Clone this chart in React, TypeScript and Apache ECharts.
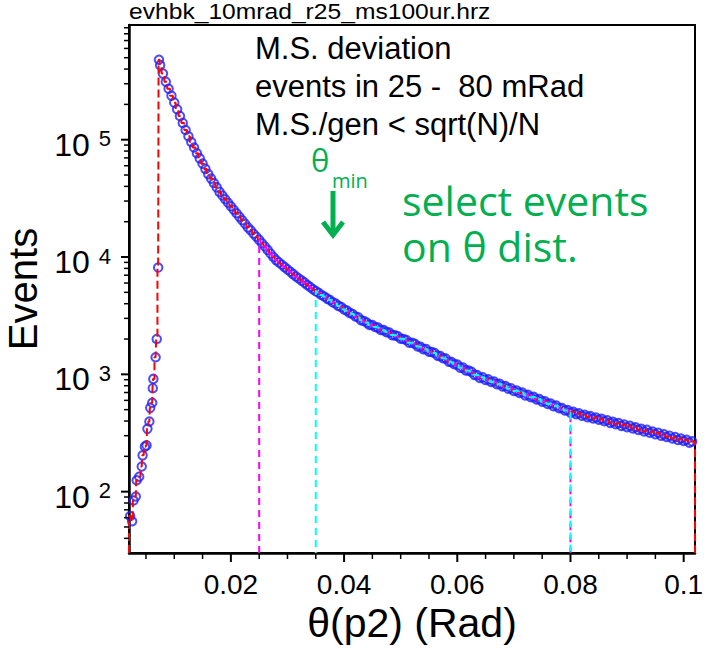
import React, { useEffect, useRef } from "react";
import * as echarts from "echarts";

// ---- axis ranges ----
const X_MIN = 0.002;
const X_MAX = 0.102;
const Y_MIN = 30;
const Y_MAX = 950000;

// ---- histogram: rising edge (theta in rad, events) ----
const thetaRise = [0.0022, 0.00255, 0.0028, 0.0032, 0.00335, 0.0038, 0.00425, 0.0044, 0.0048, 0.0051, 0.00525, 0.0056, 0.00575, 0.0061, 0.0062, 0.0063, 0.0067, 0.0069, 0.00715, 0.0073];
const eventsRise = [62, 56, 84, 91, 125, 134, 164, 204, 242, 248, 343, 396, 518, 572, 762, 914, 1397, 2000, 8130, 480000];

// ---- histogram: falling part, bins of 0.0005 rad starting at 0.0075 ----
const BIN_START = 0.0075;
const BIN_WIDTH = 0.0005;
const eventsDecay = [
  432000, 366000, 312000, 272000, 237000, 207000, 182000, 159000, 139000, 121000,
  107000, 95700, 85700, 76700, 69300, 62500, 56400, 50900, 46600, 42700,
  39200, 35900, 33400, 31100, 29000, 27100, 25300, 23600, 22000, 20600,
  19200, 17900, 16900, 15800, 14900, 14000, 13100, 12300, 11500, 10700,
  10000, 9410, 8990, 8590, 8200, 7830, 7480, 7150, 6830, 6560,
  6290, 6050, 5770, 5560, 5310, 5120, 4960, 4740, 4610, 4420,
  4300, 4110, 4020, 3830, 3750, 3570, 3490, 3340, 3270, 3110,
  3070, 2890, 2850, 2760, 2640, 2630, 2530, 2500, 2390, 2380,
  2290, 2270, 2160, 2150, 2110, 2010, 2000, 1960, 1860, 1860,
  1820, 1730, 1720, 1640, 1640, 1560, 1550, 1520, 1440, 1430,
  1370, 1360, 1280, 1270, 1220, 1210, 1140, 1140, 1080, 1075,
  1050, 990, 985, 930, 945, 895, 905, 860, 868, 825,
  830, 790, 795, 755, 762, 722, 728, 695, 700, 662,
  670, 638, 642, 610, 615, 585, 590, 560, 564, 536,
  542, 514, 516, 492, 495, 472, 480, 458, 466, 444,
  452, 432, 440, 420, 428, 410, 418, 398, 406, 386,
  394, 376, 384, 364, 374, 354, 364, 346, 354, 336,
  344, 326, 336, 318, 326, 309, 318, 300, 308, 292,
  300, 284, 292, 276, 284, 270, 277, 262, 268,
];
const thetaDecay = eventsDecay.map((_, i) => +(BIN_START + i * BIN_WIDTH).toFixed(5));

// ---- selection windows (rad) ----
const magentaRange = [0.025, 0.08];
const cyanRange = [0.035, 0.08];

// ---- ticks ----
const xMajorTicks = [0.02, 0.04, 0.06, 0.08, 0.1];
const xMinorTicks = [0.005, 0.01, 0.015, 0.025, 0.03, 0.035, 0.045, 0.05, 0.055, 0.065, 0.07, 0.075, 0.085, 0.09, 0.095];
const yMajorTicks = [100, 1000, 10000, 100000];
const yMinorTicks = [
  40, 50, 60, 70, 80, 90,
  200, 300, 400, 500, 600, 700, 800, 900,
  2000, 3000, 4000, 5000, 6000, 7000, 8000, 9000,
  20000, 30000, 40000, 50000, 60000, 70000, 80000, 90000,
  200000, 300000, 400000, 500000, 600000, 700000, 800000, 900000,
];

// ---- texts ----
const titleText = "evhbk_10mrad_r25_ms100ur.hrz";
const infoLines = ["M.S. deviation", "events in 25 -  80 mRad", "M.S./gen < sqrt(N)/N"];
const greenLines = ["select events", "on θ dist."];
const xName = "θ(p2) (Rad)";
const yName = "Events";

const ARIAL = "'Liberation Sans', Arial, Helvetica, sans-serif";
const CALIBRI = "'Open Sans', 'Noto Sans', sans-serif";
const GREEN = "#00b050";

export default function App() {
  const ref = useRef<HTMLDivElement>(null);

  useEffect(() => {
    if (!ref.current) return;
    const chart = echarts.init(ref.current, undefined, { renderer: "svg" });

    const theta = [...thetaRise, ...thetaDecay];
    const events = [...eventsRise, ...eventsDecay];
    const pts = theta.map((t, i) => [t, events[i]]);

    const inRange = (r: number[]) => pts.filter((p) => p[0] >= r[0] - 1e-9 && p[0] <= r[1] + 1e-9);
    const withDrops = (arr: number[][], x0: number, x1: number) => [
      [x0, Y_MIN],
      [x0, arr[0][1]],
      ...arr,
      [x1, arr[arr.length - 1][1]],
      [x1, Y_MIN],
    ];

    const redData = withDrops(pts, X_MIN, X_MAX);
    const magData = withDrops(inRange(magentaRange), magentaRange[0], magentaRange[1]);
    const cyanData = withDrops(inRange(cyanRange), cyanRange[0], cyanRange[1]);

    const xTickSeries = (vals: number[], len: number, w: number) => ({
      type: "custom",
      coordinateSystem: "cartesian2d",
      silent: true,
      clip: false,
      z: 10,
      data: vals.map((v) => [v]),
      renderItem: (_p: any, api: any) => {
        const c = api.coord([api.value(0), Y_MIN]);
        return {
          type: "line",
          shape: { x1: c[0], y1: c[1], x2: c[0], y2: c[1] + len },
          style: { stroke: "#000", lineWidth: w },
        };
      },
    });
    const yTickSeries = (vals: number[], len: number, w: number) => ({
      type: "custom",
      coordinateSystem: "cartesian2d",
      silent: true,
      clip: false,
      z: 10,
      data: vals.map((v) => [v]),
      renderItem: (_p: any, api: any) => {
        const c = api.coord([X_MIN, api.value(0)]);
        return {
          type: "line",
          shape: { x1: c[0], y1: c[1], x2: c[0] - len, y2: c[1] },
          style: { stroke: "#000", lineWidth: w },
        };
      },
    });

    const option: any = {
      animation: false,
      backgroundColor: "#ffffff",
      grid: {
        left: 129,
        right: 16,
        top: 25,
        bottom: 96,
        containLabel: false,
        outerBoundsMode: "none",
        show: true,
        borderColor: "#000",
        borderWidth: 2,
        backgroundColor: "transparent",
      },
      xAxis: {
        type: "value",
        min: X_MIN,
        max: X_MAX,
        name: xName,
        nameLocation: "middle",
        nameGap: 45,
        nameTextStyle: { fontSize: 41, fontFamily: ARIAL, color: "#000" },
        axisLine: { onZero: false, lineStyle: { color: "#000", width: 2.5 } },
        axisTick: { show: false },
        splitLine: { show: false },
        axisLabel: {
          margin: 17,
          fontSize: 28,
          fontFamily: ARIAL,
          color: "#000",
          showMinLabel: false,
          showMaxLabel: false,
          formatter: (v: number) => {
            const k = v / 0.02;
            return Math.abs(k - Math.round(k)) < 1e-6 && v > 0.01 ? String(+v.toFixed(3)) : "";
          },
        },
      },
      yAxis: {
        type: "log",
        min: Y_MIN,
        max: Y_MAX,
        name: yName,
        nameLocation: "middle",
        nameRotate: 90,
        nameGap: 76,
        nameTextStyle: { fontSize: 40, fontFamily: ARIAL, color: "#000" },
        axisLine: { lineStyle: { color: "#000", width: 2.5 } },
        axisTick: { show: false },
        splitLine: { show: false },
        axisLabel: {
          margin: 18,
          showMinLabel: false,
          showMaxLabel: false,
          padding: [10, 0, 0, 0],
          formatter: (v: number) => {
            const e = Math.round(Math.log10(v));
            if (Math.abs(Math.pow(10, e) - v) > 1e-6 * v) return "";
            return `{b|10}{s|${e}}`;
          },
          rich: {
            b: { fontSize: 32, fontFamily: ARIAL, color: "#000", lineHeight: 34, padding: [0, 9, 0, 0] },
            s: { fontSize: 22, fontFamily: ARIAL, color: "#000", lineHeight: 22, verticalAlign: "top" },
          },
        },
      },
      series: [
        {
          type: "scatter",
          data: pts,
          symbol: "circle",
          symbolSize: 8.5,
          silent: true,
          itemStyle: { color: "rgba(255,255,255,0)", borderColor: "#1f1fff", borderWidth: 2 },
          z: 2,
        },
        {
          type: "line",
          data: redData,
          step: "middle",
          symbol: "none",
          silent: true,
          clip: false,
          lineStyle: { color: "#ff0000", width: 2, type: [8, 4] },
          z: 3,
        },
        {
          type: "line",
          data: magData,
          step: "middle",
          symbol: "none",
          silent: true,
          lineStyle: { color: "#ff00ff", width: 2, type: [7, 5] },
          z: 4,
        },
        {
          type: "line",
          data: cyanData,
          step: "middle",
          symbol: "none",
          silent: true,
          lineStyle: { color: "#00ffff", width: 2, type: [7, 5], dashOffset: 6 },
          z: 5,
        },
        xTickSeries(xMajorTicks, 9, 2),
        xTickSeries(xMinorTicks, 6, 1.5),
        yTickSeries(yMajorTicks, 8, 2),
        yTickSeries(yMinorTicks, 5, 1.5),
      ],
      graphic: [
        {
          type: "text",
          x: 129,
          y: 11,
          scaleX: 1.12,
          style: { text: titleText, fontSize: 22, fontFamily: ARIAL, fill: "#000", textVerticalAlign: "middle" },
        },
        {
          type: "text",
          x: 255,
          y: 29,
          style: {
            text: infoLines.join("\n"),
            fontSize: 31,
            lineHeight: 38,
            fontFamily: ARIAL,
            fill: "#000",
            textVerticalAlign: "top",
          },
        },
        {
          type: "text",
          x: 311,
          y: 160,
          style: { text: "θ", fontSize: 31, fontFamily: CALIBRI, fill: GREEN, textVerticalAlign: "middle" },
        },
        {
          type: "text",
          x: 332,
          y: 180,
          style: { text: "min", fontSize: 20, fontFamily: CALIBRI, fill: GREEN, textVerticalAlign: "middle" },
        },
        {
          type: "line",
          shape: { x1: 333, y1: 191, x2: 333, y2: 234 },
          style: { stroke: GREEN, lineWidth: 5 },
        },
        {
          type: "polyline",
          shape: { points: [[323, 222], [333, 235], [343, 222]] },
          style: { stroke: GREEN, lineWidth: 5, fill: null },
        },
        {
          type: "text",
          x: 402,
          y: 177,
          style: {
            text: greenLines.join("\n"),
            fontSize: 41,
            lineHeight: 46,
            fontFamily: CALIBRI,
            fill: GREEN,
            textVerticalAlign: "top",
          },
        },
      ],
    };

    chart.setOption(option);
    return () => chart.dispose();
  }, []);

  return (
    <div
      ref={ref}
      style={{ position: "absolute", left: 0, top: 0, width: 711, height: 649, background: "#fff" }}
    />
  );
}
